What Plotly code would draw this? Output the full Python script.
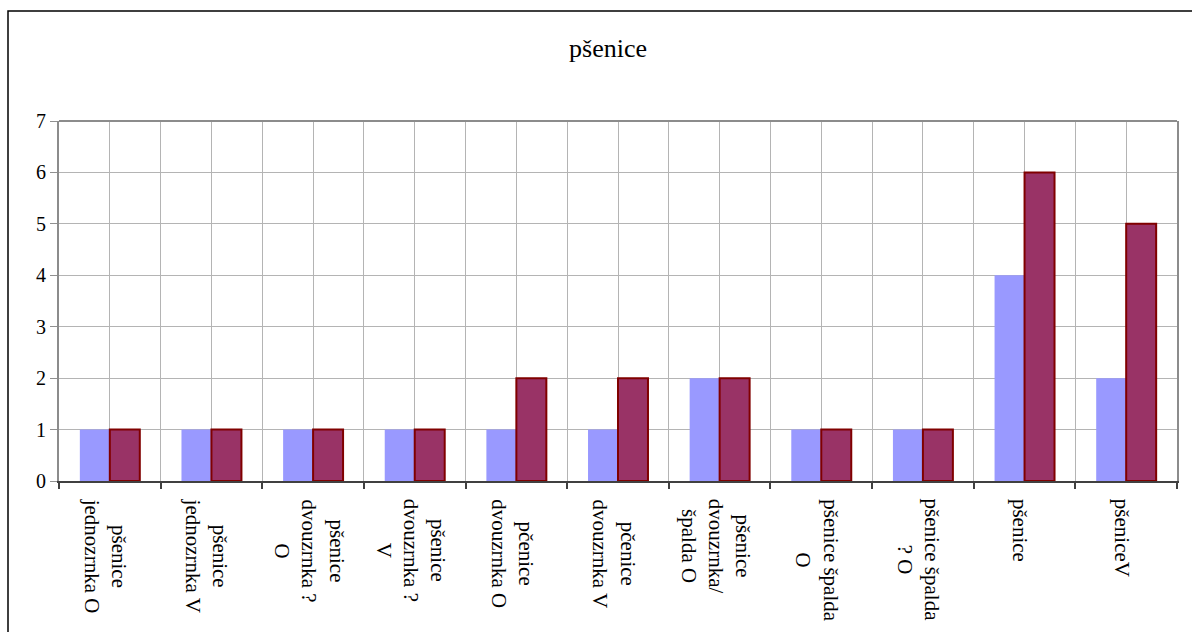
import plotly.graph_objects as go

categories = [
    "pšenice<br>jednozrnka O",
    "pšenice<br>jednozrnka V",
    "pšenice<br>dvouzrnka ?<br>O",
    "pšenice<br>dvouzrnka ?<br>V",
    "pčenice<br>dvouzrnka O",
    "pčenice<br>dvouzrnka V",
    "pšenice<br>dvouzrnka/<br>špalda O",
    "pšenice špalda<br>O",
    "pšenice špalda<br>? O",
    "pšenice",
    "pšeniceV",
]
series1 = [1, 1, 1, 1, 1, 1, 2, 1, 1, 4, 2]
series2 = [1, 1, 1, 1, 2, 2, 2, 1, 1, 6, 5]
y_ticks = [0, 1, 2, 3, 4, 5, 6, 7]
title_text = "pšenice"

pos = list(range(len(categories)))
bounds = [p - 0.5 for p in pos] + [pos[-1] + 0.5]

FONT = "Liberation Serif"

fig = go.Figure()
fig.add_trace(go.Bar(x=pos, y=series1, name="Řada1",
                     marker=dict(color="#9999FF", line=dict(width=0))))
fig.add_trace(go.Bar(x=pos, y=series2, name="Řada2",
                     marker=dict(color="#993366", line=dict(color="#800000", width=2))))

W, H = 1192, 632
L, R, T, B = 59, 15, 121, 151
pw, ph = W - L - R, H - T - B

def px_x(p):
    return (p - L) / pw

def px_y(p):
    return (H - B - p) / ph

# category labels, centred multi-line, rotated like the axis labels
for p, label in zip(pos, categories):
    fig.add_annotation(x=p, xref="x", y=0, yref="paper", text=label,
                       textangle=90, align="center", xanchor="center", yanchor="top",
                       showarrow=False, xshift=-4, yshift=-16,
                       font=dict(family=FONT, size=21, color="black"))

fig.update_layout(
    width=W, height=H,
    margin=dict(l=L, r=R, t=T, b=B),
    paper_bgcolor="white", plot_bgcolor="white",
    barmode="group", bargap=0.41, bargroupgap=0,
    showlegend=False,
    font=dict(family=FONT, size=21, color="black"),
    title=dict(text=title_text, xref="paper", x=px_x(608), xanchor="center",
               y=1 - 48 / H, yanchor="middle",
               font=dict(family=FONT, size=26, color="black")),
    xaxis=dict(
        range=[-0.5, len(categories) - 0.5],
        tickmode="array", tickvals=pos, showticklabels=False,
        ticks="", showgrid=True, gridcolor="#b4b4b4", gridwidth=1,
        showline=True, linecolor="#404040", linewidth=2,
        zeroline=False,
        minor=dict(tickmode="array", tickvals=bounds, ticks="outside", ticklen=6,
                   tickcolor="#404040", tickwidth=1.5,
                   showgrid=True, gridcolor="#b4b4b4", gridwidth=1),
    ),
    yaxis=dict(
        range=[0, 7], tickmode="array", tickvals=y_ticks,
        ticks="outside", ticklen=7, tickcolor="#909090", tickwidth=1,
        showgrid=True, gridcolor="#b4b4b4", gridwidth=1,
        showline=True, linecolor="#8c8c8c", linewidth=2, mirror=True,
        zeroline=False,
        tickfont=dict(family=FONT, size=20, color="black"),
    ),
    shapes=[
        dict(type="line", xref="paper", yref="paper", x0=0, x1=1, y0=1, y1=1,
             line=dict(color="#8c8c8c", width=2)),
        dict(type="rect", xref="paper", yref="paper",
             x0=px_x(8), x1=px_x(W + 20), y0=px_y(H + 20), y1=px_y(11),
             line=dict(color="black", width=1.5), fillcolor="rgba(0,0,0,0)"),
    ],
)

fig.write_html("out.html")
